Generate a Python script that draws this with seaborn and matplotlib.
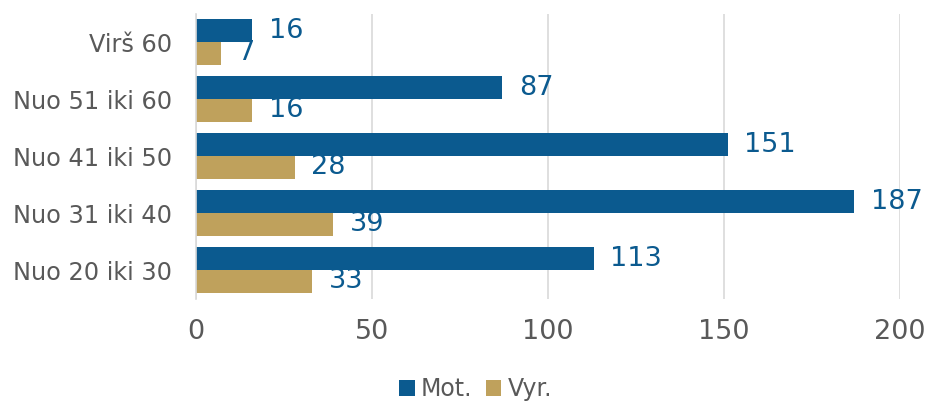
import matplotlib
matplotlib.use("Agg")
import matplotlib.pyplot as plt
import seaborn as sns
import pandas as pd

categories = ["Virš 60", "Nuo 51 iki 60", "Nuo 41 iki 50", "Nuo 31 iki 40", "Nuo 20 iki 30"]
series_names = ["Mot.", "Vyr."]
mot = [16, 87, 151, 187, 113]
vyr = [7, 16, 28, 39, 33]
x_ticks = [0, 50, 100, 150, 200]

colors = {"Mot.": "#0B5A8F", "Vyr.": "#BFA15C"}
label_color = "#0B5A8F"
text_gray = "#595959"

df = pd.DataFrame({
    "cat": categories * 2,
    "series": [series_names[0]] * len(categories) + [series_names[1]] * len(categories),
    "value": mot + vyr,
})

sns.set_theme(style="white")
plt.rcParams["font.family"] = ["DejaVu Sans"]

fig = plt.figure(figsize=(9.27, 4.01), dpi=100)
ax = fig.add_axes([0.2114, 0.2556, 0.7595, 0.7107])

sns.barplot(data=df, y="cat", x="value", hue="series", order=categories,
            hue_order=series_names, palette=colors, orient="h", width=0.8,
            saturation=1, ax=ax, legend=True, linewidth=0)

for cont in ax.containers:
    ax.bar_label(cont, padding=12, color=label_color, fontsize=19.5)

ax.set_xlim(0, 200)
ax.set_xticks(x_ticks)
ax.set_ylim(4.5, -0.5)
ax.grid(axis="x", color="#D9D9D9", linewidth=1.2)
ax.set_axisbelow(True)
for s in ["top", "right", "bottom"]:
    ax.spines[s].set_visible(False)
ax.spines["left"].set_color("#D9D9D9")
ax.spines["left"].set_linewidth(1.2)
ax.set_xlabel("")
ax.set_ylabel("")
ax.tick_params(axis="y", length=0, pad=17, labelsize=17.3, labelcolor=text_gray)
ax.tick_params(axis="x", length=0, pad=15, labelsize=19.5, labelcolor=text_gray)

handles, labels = ax.get_legend_handles_labels()
fig.legend(handles, labels, loc="center", bbox_to_anchor=(0.513, 0.03),
           ncol=2, frameon=False, fontsize=17, handlelength=0.65, handleheight=0.65,
           handletextpad=0.25, columnspacing=0.6, labelcolor=text_gray)
if ax.get_legend() is not None:
    ax.get_legend().remove()

fig.savefig("out.png", dpi=100)
